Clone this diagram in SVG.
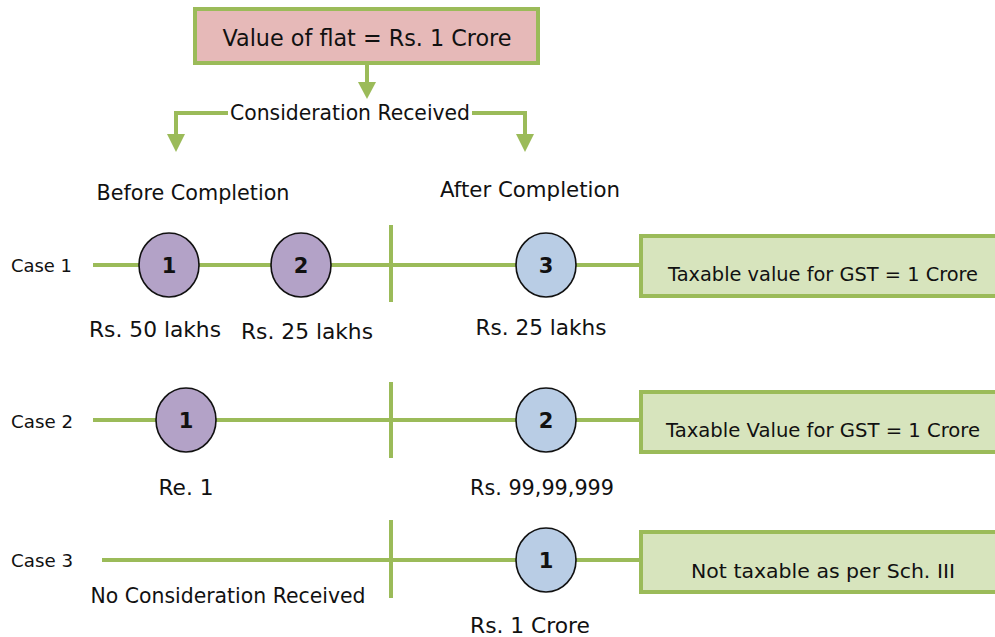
<svg xmlns="http://www.w3.org/2000/svg" width="995" height="637" viewBox="0 0 995 637">
  <defs>
    <style>
      text { font-family: "DejaVu Sans", "Open Sans", sans-serif; fill: #111; }
      .lbl { font-size: 21px; text-anchor: middle; }
      .case { font-size: 17px; }
      .num { font-size: 21px; font-weight: bold; text-anchor: middle; }
      .box-txt { font-size: 19px; text-anchor: middle; }
      .green { stroke: #9bbb59; stroke-width: 4; fill: none; }
      .head { fill: #9bbb59; }
      .result { fill: #d7e4bd; stroke: #9bbb59; stroke-width: 4; }
      .purple { fill: #b3a2c7; stroke: #111; stroke-width: 1.6; }
      .blue { fill: #b9cde5; stroke: #111; stroke-width: 1.6; }
    </style>
  </defs>

  <rect width="995" height="637" fill="#ffffff"/>

  <!-- connectors -->
  <g id="connectors">
    <!-- top box down to branch -->
    <line class="green" x1="367" y1="64" x2="367" y2="84"/>
    <path class="head" d="M358,82 L376,82 L367,99 Z"/>
    <!-- branch left / right -->
    <polyline class="green" points="228,113 176,113 176,136"/>
    <path class="head" d="M167,134 L185,134 L176,152 Z"/>
    <polyline class="green" points="472,113 525,113 525,136"/>
    <path class="head" d="M516,134 L534,134 L525,152 Z"/>

    <!-- case timelines -->
    <line class="green" x1="93" y1="265" x2="642" y2="265"/>
    <line class="green" x1="391" y1="225" x2="391" y2="302"/>
    <line class="green" x1="93" y1="420" x2="642" y2="420"/>
    <line class="green" x1="391" y1="382" x2="391" y2="458"/>
    <line class="green" x1="102" y1="560" x2="642" y2="560"/>
    <line class="green" x1="391" y1="520" x2="391" y2="598"/>
  </g>

  <!-- top node -->
  <g id="flat-value">
    <rect x="195" y="9" width="343" height="54" fill="#e6b9b8" stroke="#9bbb59" stroke-width="4"/>
    <text x="367" y="46" style="font-size:23px;text-anchor:middle" textLength="289" lengthAdjust="spacingAndGlyphs">Value of flat = Rs. 1 Crore</text>
  </g>

  <g id="consideration">
    <text class="lbl" x="350" y="120" textLength="240" lengthAdjust="spacingAndGlyphs">Consideration Received</text>
  </g>

  <g id="headings">
    <text class="lbl" x="193" y="200" textLength="193" lengthAdjust="spacingAndGlyphs">Before Completion</text>
    <text class="lbl" x="530" y="197" textLength="180" lengthAdjust="spacingAndGlyphs">After Completion</text>
  </g>

  <!-- case 1 -->
  <g id="case1">
    <text class="case" x="11" y="272" textLength="61" lengthAdjust="spacingAndGlyphs">Case 1</text>
    <g id="case1-p1">
      <ellipse class="purple" cx="169" cy="265" rx="30" ry="32"/>
      <text class="num" x="169" y="273">1</text>
      <text class="lbl" x="155" y="337" textLength="132" lengthAdjust="spacingAndGlyphs">Rs. 50 lakhs</text>
    </g>
    <g id="case1-p2">
      <ellipse class="purple" cx="301" cy="265" rx="30" ry="32"/>
      <text class="num" x="301" y="273">2</text>
      <text class="lbl" x="307" y="339" textLength="132" lengthAdjust="spacingAndGlyphs">Rs. 25 lakhs</text>
    </g>
    <g id="case1-p3">
      <ellipse class="blue" cx="546" cy="265" rx="30" ry="32"/>
      <text class="num" x="546" y="273">3</text>
      <text class="lbl" x="541" y="335" textLength="131" lengthAdjust="spacingAndGlyphs">Rs. 25 lakhs</text>
    </g>
    <g id="case1-result">
      <rect class="result" x="641" y="236" width="360" height="60"/>
      <text class="box-txt" x="823" y="281" textLength="310" lengthAdjust="spacingAndGlyphs">Taxable value for GST = 1 Crore</text>
    </g>
  </g>

  <!-- case 2 -->
  <g id="case2">
    <text class="case" x="11" y="428" textLength="62" lengthAdjust="spacingAndGlyphs">Case 2</text>
    <g id="case2-p1">
      <ellipse class="purple" cx="186" cy="420" rx="30" ry="32"/>
      <text class="num" x="186" y="428">1</text>
      <text class="lbl" x="186" y="495" textLength="55" lengthAdjust="spacingAndGlyphs">Re. 1</text>
    </g>
    <g id="case2-p2">
      <ellipse class="blue" cx="546" cy="420" rx="30" ry="32"/>
      <text class="num" x="546" y="428">2</text>
      <text class="lbl" x="542" y="495" textLength="144" lengthAdjust="spacingAndGlyphs">Rs. 99,99,999</text>
    </g>
    <g id="case2-result">
      <rect class="result" x="641" y="392" width="360" height="60"/>
      <text class="box-txt" x="823" y="437" textLength="314" lengthAdjust="spacingAndGlyphs">Taxable Value for GST = 1 Crore</text>
    </g>
  </g>

  <!-- case 3 -->
  <g id="case3">
    <text class="case" x="11" y="567" textLength="62" lengthAdjust="spacingAndGlyphs">Case 3</text>
    <text class="lbl" x="228" y="603" textLength="275" lengthAdjust="spacingAndGlyphs">No Consideration Received</text>
    <g id="case3-p1">
      <ellipse class="blue" cx="546" cy="560" rx="30" ry="32"/>
      <text class="num" x="546" y="568">1</text>
      <text class="lbl" x="530" y="633" textLength="120" lengthAdjust="spacingAndGlyphs">Rs. 1 Crore</text>
    </g>
    <g id="case3-result">
      <rect class="result" x="641" y="532" width="360" height="60"/>
      <text class="box-txt" x="823" y="578" textLength="264" lengthAdjust="spacingAndGlyphs">Not taxable as per Sch. III</text>
    </g>
  </g>
</svg>
